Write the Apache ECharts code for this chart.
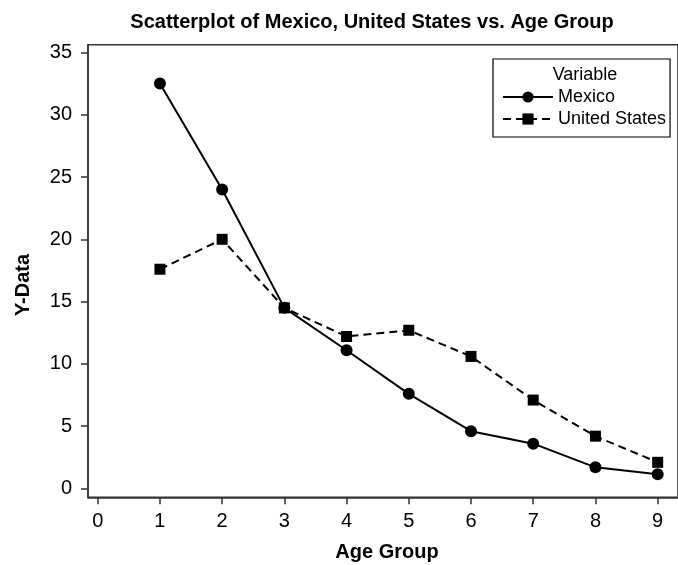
<!DOCTYPE html>
<html>
<head>
<meta charset="utf-8">
<script src="https://cdn.jsdelivr.net/npm/echarts@6/dist/echarts.min.js"></script>
<style>
  html, body { margin: 0; padding: 0; background: #fff; }
  #chart { width: 678px; height: 565px; }
</style>
</head>
<body>
<div id="chart"></div>
<script>
const ageGroups = [1, 2, 3, 4, 5, 6, 7, 8, 9];
const mexico = [32.5, 24.0, 14.5, 11.1, 7.6, 4.6, 3.6, 1.7, 1.15];
const unitedStates = [17.6, 20.0, 14.5, 12.2, 12.7, 10.6, 7.1, 4.2, 2.1];
const xTicks = [0, 1, 2, 3, 4, 5, 6, 7, 8, 9];
const yTicks = [0, 5, 10, 15, 20, 25, 30, 35];

const FONT = '"Liberation Sans", Arial, Helvetica, sans-serif';
const chart = echarts.init(document.getElementById('chart'), null, { renderer: 'canvas' });

const toPairs = (xs, ys) => xs.map((x, i) => [x, ys[i]]);

chart.setOption({
  animation: false,
  backgroundColor: '#fff',
  textStyle: { fontFamily: FONT, color: '#000' },
  title: {
    text: 'Scatterplot of Mexico, United States vs. Age Group',
    left: 372,
    top: 12,
    textAlign: 'center',
    padding: 0,
    textStyle: { fontFamily: FONT, fontSize: 20, fontWeight: 'bold', color: '#000', lineHeight: 20 }
  },
  grid: {
    left: 88, right: 0, top: 44.7, bottom: 67.7,
    show: true, borderColor: '#333', borderWidth: 1.5, backgroundColor: 'transparent'
  },
  xAxis: {
    type: 'value',
    min: -0.156,
    max: 9.327,
    splitLine: { show: false },
    axisLine: { show: true, onZero: false, lineStyle: { color: '#333', width: 1.5 } },
    axisTick: { show: true, customValues: xTicks, length: 7, inside: false, lineStyle: { color: '#333', width: 1.5 } },
    axisLabel: { customValues: xTicks, fontSize: 20, color: '#000', margin: 14, fontFamily: FONT }
  },
  yAxis: {
    type: 'value',
    min: -0.706,
    max: 35.62,
    splitLine: { show: false },
    axisLine: { show: true, onZero: false, lineStyle: { color: '#333', width: 1.5 } },
    axisTick: { show: true, customValues: yTicks, length: 7, inside: false, lineStyle: { color: '#333', width: 1.5 } },
    axisLabel: { customValues: yTicks, fontSize: 20, color: '#000', margin: 16, fontFamily: FONT }
  },
  legend: {
    orient: 'vertical',
    left: 493,
    top: 59,
    padding: [29, 4, 9, 9],
    itemGap: 4,
    itemWidth: 50,
    itemHeight: 14,
    borderColor: '#000',
    borderWidth: 1.2,
    backgroundColor: '#fff',
    textStyle: { fontSize: 18, color: '#000', fontFamily: FONT, lineHeight: 18 },
    data: ['Mexico', 'United States']
  },
  graphic: [
    {
      type: 'text', z: 100, x: 585, y: 75,
      style: { text: 'Variable', font: '18px ' + FONT, fill: '#000', textAlign: 'center', textVerticalAlign: 'middle' }
    },
    {
      type: 'text', z: 100, x: 387, y: 552,
      style: { text: 'Age Group', font: 'bold 20px ' + FONT, fill: '#000', textAlign: 'center', textVerticalAlign: 'middle' }
    },
    {
      type: 'text', z: 100, x: 23, y: 285, rotation: Math.PI / 2,
      style: { text: 'Y-Data', font: 'bold 20px ' + FONT, fill: '#000', textAlign: 'center', textVerticalAlign: 'middle' }
    }
  ],
  series: [
    {
      name: 'Mexico',
      type: 'line',
      data: toPairs(ageGroups, mexico),
      symbol: 'circle',
      symbolSize: 12,
      color: '#000',
      itemStyle: { color: '#000' },
      lineStyle: { color: '#000', width: 2, type: 'solid' }
    },
    {
      name: 'United States',
      type: 'line',
      data: toPairs(ageGroups, unitedStates),
      symbol: 'rect',
      symbolSize: 11,
      color: '#000',
      itemStyle: { color: '#000' },
      lineStyle: { color: '#000', width: 2, type: [8, 5] }
    }
  ]
});
</script>
</body>
</html>
